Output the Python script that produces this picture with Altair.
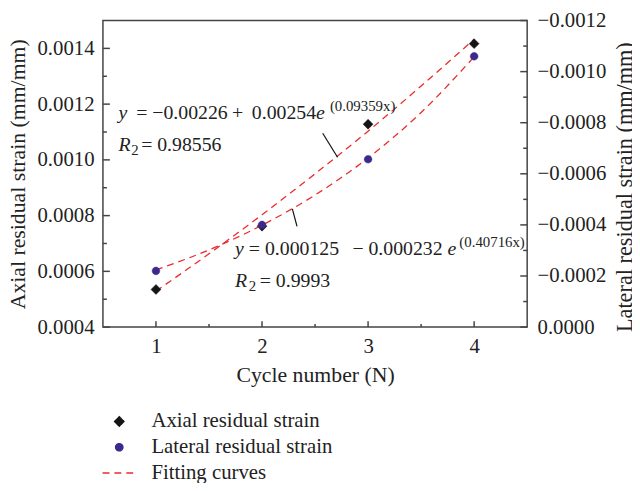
import altair as alt
import pandas as pd

FONT = "Liberation Serif"
TEXT = "#222222"
AXIS = "#444444"

# ---- data ----
cycles = [1, 2, 3, 4]
axial_strain = [0.000535, 0.000762, 0.001128, 0.001417]
lateral_strain = [-0.00022, -0.00040, -0.000657, -0.00106]

fit_x = [1.0, 1.5, 2.0, 2.5, 3.0, 3.5, 4.0]
axial_fit = [0.000529, 0.000663, 0.000803, 0.000950, 0.001103, 0.001265, 0.001433]
lateral_fit = [-0.000224, -0.000302, -0.000399, -0.000517, -0.000662, -0.000840, -0.001058]

series_names = ["Axial residual strain", "Lateral residual strain", "Fitting curves"]

left_major = [0.0004, 0.0006, 0.0008, 0.0010, 0.0012, 0.0014]
left_minor = [0.0005, 0.0007, 0.0009, 0.0011, 0.0013]
right_major = [0.0, -0.0002, -0.0004, -0.0006, -0.0008, -0.0010, -0.0012]
right_minor = [-0.0001, -0.0003, -0.0005, -0.0007, -0.0009, -0.0011]
x_major = [1, 2, 3, 4]
x_minor = [1.5, 2.5, 3.5]

# annotation tokens (position in axis units of x and left y)
ann_text = ["y", "= \u22120.00226", "+", "0.00254", "e", "(0.09359x)",
            "R", "2", "= 0.98556",
            "y", "= 0.000125", "\u2212", "0.000232", "e", "(0.40716x)",
            "R", "2", "= 0.9993"]
ann_x = [0.646, 0.8137, 1.7174, 1.9038, 2.5094, 2.6398,
         0.646, 0.7671, 0.8602,
         1.7454, 1.8758, 2.8541, 3.0032, 3.7485, 3.8603,
         1.7454, 1.8758, 1.9783]
ann_y = [0.0011475, 0.0011475, 0.0011475, 0.0011475, 0.0011475, 0.0011758,
         0.0010306, 0.0010164, 0.0010306,
         0.0006586, 0.0006586, 0.0006586, 0.0006586, 0.0006586, 0.000687,
         0.0005452, 0.0005311, 0.0005452]
ann_kind = ["italic", "normal", "normal", "normal", "italic", "small",
            "italic", "small", "normal",
            "italic", "normal", "normal", "normal", "italic", "small",
            "italic", "small", "normal"]

leader_x = [2.572, 2.286]
leader_y = [0.0010954, 0.000824]
leader_x2 = [2.712, 2.330]
leader_y2 = [0.0010093, 0.0007614]

# ---- tables ----
axial_df = pd.DataFrame({"cycle": cycles, "strain": axial_strain, "series": series_names[0]})
lateral_df = pd.DataFrame({"cycle": cycles, "strain": lateral_strain, "series": series_names[1]})
axial_fit_df = pd.DataFrame({"cycle": fit_x, "strain": axial_fit, "series": series_names[2], "curve": "a"})
lateral_fit_df = pd.DataFrame({"cycle": fit_x, "strain": lateral_fit, "series": series_names[2], "curve": "l"})
ann_df = pd.DataFrame({"text": ann_text, "cycle": ann_x, "strain": ann_y, "kind": ann_kind})
leader_df = pd.DataFrame({"cycle": leader_x, "strain": leader_y, "cycle2": leader_x2, "strain2": leader_y2})

W, H = 429, 310

xs = alt.Scale(domain=[0.5, 4.5], nice=False, zero=False)
ys_left = alt.Scale(domain=[0.0004, 0.0015], nice=False, zero=False)
ys_right = alt.Scale(domain=[0.0, -0.0012], nice=False, zero=False)

DIAMOND = "M-1,0L0,-1L1,0L0,1Z"
SMALL_CIRCLE = "M0.78,0A0.78,0.78,0,1,1,-0.78,0A0.78,0.78,0,1,1,0.78,0Z"
LONG_STROKE = "M-3.6,0L3.6,0"

color_scale = alt.Scale(domain=series_names, range=["#151515", "#3b2a8c", "#ec2b2b"])
shape_scale = alt.Scale(domain=series_names, range=[DIAMOND, SMALL_CIRCLE, LONG_STROKE])
dash_scale = alt.Scale(domain=series_names, range=[[1, 0], [1, 0], [7, 5]])

legend = alt.Legend(
    title=None, orient="none", legendX=6, legendY=395, padding=0,
    labelFont=FONT, labelFontSize=21, labelColor=TEXT, labelLimit=400,
    labelOffset=22, rowPadding=4, symbolSize=88, symbolStrokeWidth=1.5,
    symbolOpacity=1,
)

x_axis = alt.Axis(values=x_major, format="d", title="Cycle number (N)",
                  ticks=False, domain=False, grid=False,
                  labelPadding=9, titlePadding=8)
left_axis = alt.Axis(values=left_major, format=".4f", orient="left",
                     title="Axial residual strain (mm/mm)",
                     ticks=False, domain=False, grid=False,
                     labelPadding=9, titlePadding=8)
right_axis = alt.Axis(values=right_major, format=".4f", orient="right",
                      title="Lateral residual strain (mm/mm)", titleAngle=270,
                      titleBaseline="top", titleFontSize=22.5, titleY=168,
                      ticks=False, domain=False, grid=False,
                      labelPadding=10, titlePadding=8)


def X(field="cycle:Q"):
    return alt.X(field, scale=xs, axis=x_axis)


def Y(yscale, yaxis, field="strain:Q"):
    return alt.Y(field, scale=yscale, axis=yaxis)


def fit_line(df, yscale, yaxis):
    return alt.Chart(df).mark_line(strokeWidth=1.3, interpolate="monotone").encode(
        x=X(), y=Y(yscale, yaxis),
        stroke=alt.Stroke("series:N", scale=color_scale, legend=legend),
        strokeDash=alt.StrokeDash("series:N", scale=dash_scale, legend=legend),
        detail="curve:N",
    )


def points(df, yscale, yaxis):
    return alt.Chart(df).mark_point(filled=True, opacity=1, strokeWidth=0.5, size=100).encode(
        x=X(), y=Y(yscale, yaxis),
        fill=alt.Fill("series:N", scale=color_scale, legend=legend),
        stroke=alt.Stroke("series:N", scale=color_scale, legend=legend),
        shape=alt.Shape("series:N", scale=shape_scale, legend=legend),
    )


def tick_rules(vals, yscale, yaxis, x0, x1):
    return alt.Chart(pd.DataFrame({"strain": vals})).mark_rule(color=AXIS, strokeWidth=1.5).encode(
        y=Y(yscale, yaxis), x=alt.value(x0), x2=alt.value(x1))


def xtick_rules(vals, length):
    return alt.Chart(pd.DataFrame({"cycle": vals})).mark_rule(color=AXIS, strokeWidth=1.5).encode(
        x=X(), y=alt.value(H), y2=alt.value(H - length))


def text_layer(kind, size, style):
    return alt.Chart(ann_df).transform_filter(alt.datum.kind == kind).mark_text(
        align="left", baseline="alphabetic", font=FONT, fontSize=size,
        fontStyle=style, color=TEXT
    ).encode(x=X(), y=Y(ys_left, left_axis), text="text:N")


leaders = alt.Chart(leader_df).mark_rule(color="#111111", strokeWidth=1.2).encode(
    x=X(), y=Y(ys_left, left_axis), x2="cycle2:Q", y2="strain2:Q")

left_layer = alt.layer(
    fit_line(axial_fit_df, ys_left, left_axis),
    points(axial_df, ys_left, left_axis),
    tick_rules(left_major, ys_left, left_axis, 0, 7),
    tick_rules(left_minor, ys_left, left_axis, 0, 4),
    xtick_rules(x_major, 6),
    xtick_rules(x_minor, 3),
    leaders,
    text_layer("italic", 20, "italic"),
    text_layer("normal", 20, "normal"),
    text_layer("small", 15, "normal"),
)

right_layer = alt.layer(
    fit_line(lateral_fit_df, ys_right, right_axis),
    points(lateral_df, ys_right, right_axis),
    tick_rules(right_major, ys_right, right_axis, W, W - 7),
    tick_rules(right_minor, ys_right, right_axis, W, W - 4),
)

chart = alt.layer(left_layer, right_layer).resolve_scale(y="independent").properties(
    width=W, height=H,
    autosize=alt.AutoSizeParams(type="none"),
    padding={"left": 96, "top": 10, "right": 106, "bottom": 155},
).configure_view(
    stroke=AXIS, strokeWidth=1.5
).configure_axis(
    labelFont=FONT, labelFontSize=21, labelColor=TEXT,
    titleFont=FONT, titleFontSize=22, titleColor=TEXT, titleFontWeight="normal",
)

chart.save("out.html", embed_options={"renderer": "svg", "actions": False})
